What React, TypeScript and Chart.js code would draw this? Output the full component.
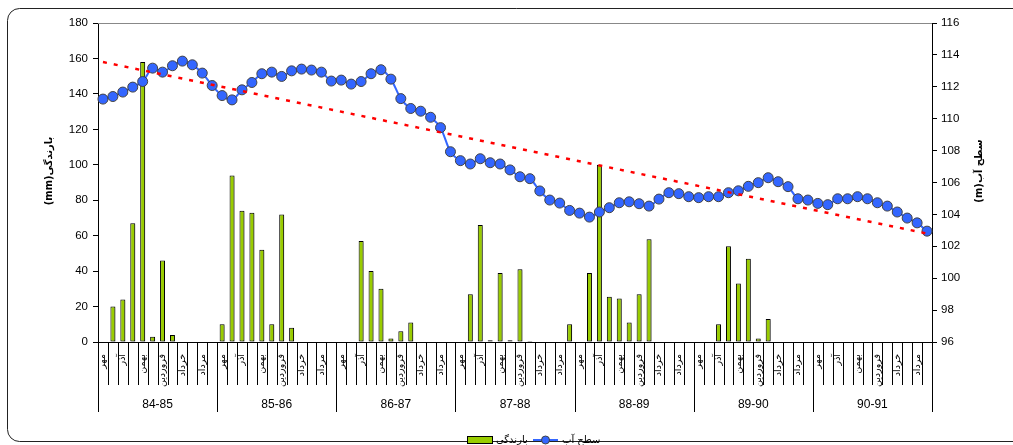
import React, { useEffect, useRef } from 'react';
import { Chart, registerables } from 'chart.js';

Chart.register(...registerables);

// ---- data ----
const years = ['84-85', '85-86', '86-87', '87-88', '88-89', '89-90', '90-91'];
const months = ['مهر', 'آبان', 'آذر', 'دی', 'بهمن', 'اسفند', 'فروردین', 'اردیبهشت', 'خرداد', 'تیر', 'مرداد', 'شهریور'];

// rainfall (mm), one array per water year, Mehr..Shahrivar
const rain8485 = [0, 20, 24, 67, 158, 3, 46, 4, 0, 0, 0, 0];
const rain8586 = [10, 94, 74, 73, 52, 10, 72, 8, 0, 0, 0, 0];
const rain8687 = [0, 0, 57, 40, 30, 2, 6, 11, 0, 0, 0, 0];
const rain8788 = [0, 27, 66, 1, 39, 1, 41, 0.5, 0, 0, 0, 10];
const rain8889 = [0, 39, 100, 25.5, 24.5, 11, 27, 58, 0, 0, 0, 0];
const rain8990 = [0, 0, 10, 54, 33, 47, 2, 13, 0, 0, 0, 0];
const rain9091 = [0, 0, 0, 0, 0, 0, 0, 0, 0, 0, 0, 0];

// water level (m)
const level8485 = [111.23, 111.39, 111.67, 111.98, 112.33, 113.17, 112.92, 113.32, 113.61, 113.38, 112.86, 112.08];
const level8586 = [111.45, 111.18, 111.81, 112.27, 112.82, 112.92, 112.65, 113.0, 113.11, 113.05, 112.92, 112.36];
const level8687 = [112.42, 112.17, 112.33, 112.82, 113.07, 112.48, 111.26, 110.64, 110.47, 110.09, 109.44, 107.93];
const level8788 = [107.37, 107.16, 107.49, 107.24, 107.16, 106.79, 106.36, 106.24, 105.47, 104.9, 104.71, 104.25];
const level8889 = [104.08, 103.83, 104.15, 104.42, 104.73, 104.79, 104.67, 104.52, 104.96, 105.36, 105.3, 105.11];
const level8990 = [105.05, 105.11, 105.11, 105.36, 105.48, 105.76, 105.99, 106.3, 106.05, 105.74, 104.98, 104.9];
const level9091 = [104.69, 104.61, 104.98, 104.98, 105.11, 104.98, 104.73, 104.52, 104.15, 103.77, 103.47, 102.95];

// linear trend of the water level (end points)
const trendStart = 113.55;
const trendEnd = 102.8;

const rainTicks = { min: 0, max: 180, step: 20 };
const levelTicks = { min: 96, max: 116, step: 2 };

const rainLabel = 'بارندگی';
const levelLabel = 'سطح آب';
const rainTitle = 'بارندگی(mm)';
const levelTitle = 'سطح آب(m)';

const W = 1013;
const H = 445;
const LATIN = '"Liberation Sans", Arial, sans-serif';
const PERSIAN = '"DejaVu Sans", sans-serif';
const GREEN = '#99CC00';
const BLUE = '#3366FF';

export default function App() {
  const ref = useRef<HTMLCanvasElement | null>(null);

  useEffect(() => {
    if (!ref.current) return;
    const labels = years.flatMap(() => months);
    const rain = [...rain8485, ...rain8586, ...rain8687, ...rain8788, ...rain8889, ...rain8990, ...rain9091];
    const level = [...level8485, ...level8586, ...level8687, ...level8788, ...level8889, ...level8990, ...level9091];
    const trend = level.map((_, i) => (i === 0 ? trendStart : i === level.length - 1 ? trendEnd : null));
    const N = labels.length;

    const shadow = {
      id: 'barShadow',
      beforeDatasetDraw(chart: any, args: any) {
        if (args.index !== 0) return;
        const ctx = chart.ctx;
        ctx.save();
        ctx.shadowColor = 'rgba(0,0,0,0.3)';
        ctx.shadowOffsetX = 2;
        ctx.shadowOffsetY = 1;
        ctx.shadowBlur = 2;
      },
      afterDatasetDraw(chart: any, args: any) {
        if (args.index !== 0) return;
        chart.ctx.restore();
      },
    };

    const decor = {
      id: 'decor',
      beforeDraw(chart: any) {
        const ctx = chart.ctx;
        ctx.save();
        ctx.fillStyle = '#fff';
        ctx.fillRect(0, 0, W, H);
        ctx.strokeStyle = '#222';
        ctx.lineWidth = 1;
        ctx.beginPath();
        (ctx as any).roundRect(7.5, 8.5, 1100, 433, 12);
        ctx.stroke();
        ctx.restore();
      },
      afterDraw(chart: any) {
        const ctx = chart.ctx;
        const ca = chart.chartArea;
        const xs = chart.scales.x;
        ctx.save();
        // plot area top border
        ctx.strokeStyle = '#888';
        ctx.lineWidth = 1;
        ctx.beginPath();
        ctx.moveTo(ca.left, Math.round(ca.top) + 0.5);
        ctx.lineTo(ca.right, Math.round(ca.top) + 0.5);
        ctx.stroke();

        // category separators
        ctx.strokeStyle = '#000';
        for (let i = 0; i <= N; i++) {
          const x = Math.round(xs.getPixelForValue(i - 0.5)) + 0.5;
          const isYear = i % 12 === 0;
          ctx.beginPath();
          ctx.moveTo(x, ca.bottom);
          ctx.lineTo(x, ca.bottom + (isYear ? 70 : 43));
          ctx.stroke();
        }
        // year labels
        ctx.fillStyle = '#000';
        ctx.font = `12px ${LATIN}`;
        ctx.textAlign = 'center';
        ctx.textBaseline = 'middle';
        years.forEach((y, k) => {
          const x0 = xs.getPixelForValue(k * 12 - 0.5);
          const x1 = xs.getPixelForValue(k * 12 + 11.5);
          ctx.fillText(y, (x0 + x1) / 2, ca.bottom + 63);
        });

        // axis titles
        ctx.font = `bold 10px ${PERSIAN}`;
        (ctx as any).direction = 'rtl';
        ctx.textAlign = 'center';
        ctx.save();
        ctx.translate(49, 171);
        ctx.rotate(-Math.PI / 2);
        ctx.fillText(rainTitle, 0, 0);
        ctx.restore();
        ctx.save();
        ctx.translate(979, 171);
        ctx.rotate(-Math.PI / 2);
        ctx.fillText(levelTitle, 0, 0);
        ctx.restore();
        (ctx as any).direction = 'ltr';

        // legend
        ctx.fillStyle = GREEN;
        ctx.fillRect(467.5, 436.5, 25, 7);
        ctx.strokeStyle = '#000';
        ctx.strokeRect(467.5, 436.5, 25, 7);
        ctx.fillStyle = '#000';
        ctx.font = `10px ${PERSIAN}`;
        ctx.textAlign = 'left';
        ctx.textBaseline = 'middle';
        ctx.fillText(rainLabel, 496, 440);
        ctx.strokeStyle = BLUE;
        ctx.lineWidth = 2;
        ctx.beginPath();
        ctx.moveTo(533, 440);
        ctx.lineTo(558, 440);
        ctx.stroke();
        ctx.beginPath();
        ctx.arc(545.5, 440, 4, 0, Math.PI * 2);
        ctx.fillStyle = BLUE;
        ctx.fill();
        ctx.lineWidth = 1;
        ctx.strokeStyle = '#444';
        ctx.stroke();
        ctx.fillStyle = '#000';
        ctx.fillText(levelLabel, 562, 440);
        ctx.restore();
      },
    };

    const chart = new Chart(ref.current, {
      type: 'bar',
      data: {
        labels,
        datasets: [
          {
            type: 'bar',
            label: rainLabel,
            data: rain,
            backgroundColor: GREEN,
            borderColor: '#000',
            borderWidth: 1,
            borderSkipped: false,
            categoryPercentage: 1,
            barPercentage: 0.5,
            yAxisID: 'yRain',
            order: 3,
          } as any,
          {
            type: 'line',
            label: levelLabel,
            data: level,
            borderColor: BLUE,
            borderWidth: 2,
            backgroundColor: BLUE,
            pointRadius: 5,
            pointBackgroundColor: BLUE,
            pointBorderColor: '#444',
            pointBorderWidth: 1,
            tension: 0.3,
            yAxisID: 'yLevel',
            order: 2,
          } as any,
          {
            type: 'line',
            label: 'trend',
            data: trend,
            borderColor: '#FF0000',
            borderWidth: 2.5,
            borderDash: [4, 7],
            pointRadius: 0,
            spanGaps: true,
            yAxisID: 'yLevel',
            order: 1,
          } as any,
        ],
      },
      options: {
        responsive: false,
        animation: false,
        devicePixelRatio: 1,
        layout: { padding: { top: 23, left: 0, right: 0, bottom: 0 } },
        plugins: { legend: { display: false }, tooltip: { enabled: false } },
        scales: {
          x: {
            type: 'category',
            offset: true,
            grid: { display: false },
            border: { display: true, color: '#000', width: 1 },
            ticks: {
              autoSkip: false,
              maxRotation: 90,
              minRotation: 90,
              padding: 4,
              color: '#000',
              font: { size: 9.5, family: PERSIAN },
              callback: (_v: any, i: number) => (i % 2 === 0 ? labels[i] : ''),
            },
            afterFit: (s: any) => {
              s.height = H - 342;
            },
          },
          yRain: {
            position: 'left',
            min: rainTicks.min,
            max: rainTicks.max,
            ticks: { stepSize: rainTicks.step, color: '#000', padding: 5, font: { size: 11.5, family: LATIN } },
            grid: { display: true, drawOnChartArea: false, drawTicks: true, tickLength: 5, color: '#000' },
            border: { display: true, color: '#000', width: 1 },
            afterFit: (s: any) => {
              s.width = 98;
            },
          },
          yLevel: {
            position: 'right',
            min: levelTicks.min,
            max: levelTicks.max,
            ticks: { stepSize: levelTicks.step, color: '#000', padding: 4, font: { size: 11.5, family: LATIN } },
            grid: { display: true, drawOnChartArea: false, drawTicks: true, tickLength: 5, color: '#000' },
            border: { display: true, color: '#000', width: 1 },
            afterFit: (s: any) => {
              s.width = W - 932;
            },
          },
        },
      } as any,
      plugins: [shadow, decor],
    });
    return () => chart.destroy();
  }, []);

  return (
    <div style={{ position: 'fixed', left: 0, top: 0, width: W, height: H, background: '#fff' }}>
      <canvas ref={ref} width={W} height={H} style={{ width: W, height: H, display: 'block' }} />
    </div>
  );
}
